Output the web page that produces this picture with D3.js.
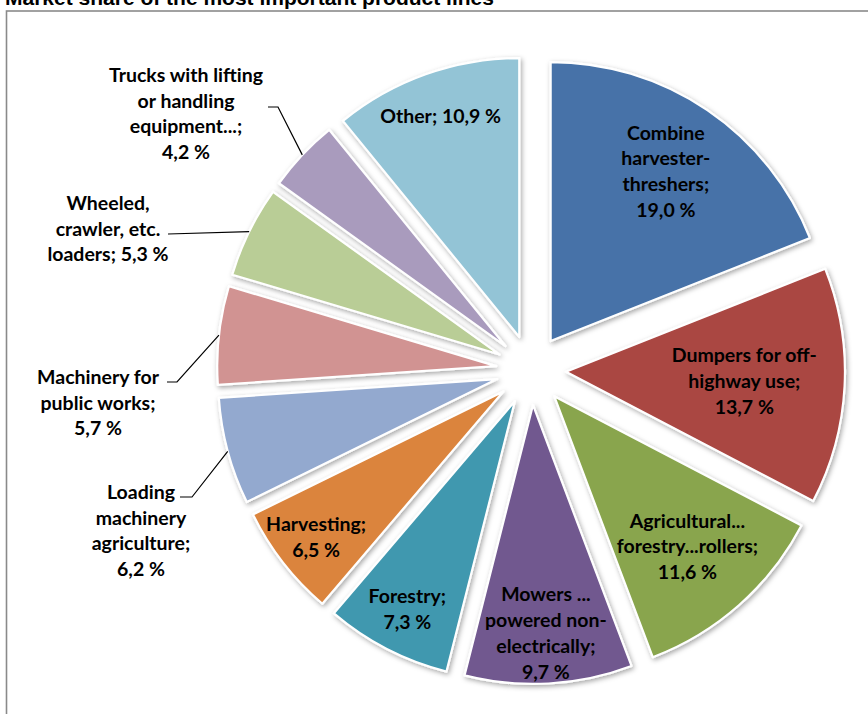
<!DOCTYPE html>
<html>
<head>
<meta charset="utf-8">
<script src="https://cdn.jsdelivr.net/npm/d3@7"></script>
<style>
  html, body { margin: 0; padding: 0; background: #fff; }
  svg { display: block; }
</style>
</head>
<body>
<div id="chart"></div>
<script>
// Product lines, clockwise from 12 o'clock
const categories = [
  "Combine harvester-threshers",
  "Dumpers for off-highway use",
  "Agricultural... forestry...rollers",
  "Mowers ... powered non-electrically",
  "Forestry",
  "Harvesting",
  "Loading machinery agriculture",
  "Machinery for public works",
  "Wheeled, crawler, etc. loaders",
  "Trucks with lifting or handling equipment...",
  "Other"
];
// Market share, %
const shares = [19.0, 13.7, 11.6, 9.7, 7.3, 6.5, 6.2, 5.7, 5.3, 4.2, 10.9];
// Label text broken into lines; {v} is replaced by the formatted share
const labelLines = [
  ["Combine", "harvester-", "threshers;", "{v}"],
  ["Dumpers for off-", "highway use;", "{v}"],
  ["Agricultural...", "forestry...rollers;", "{v}"],
  ["Mowers ...", "powered non-", "electrically;", "{v}"],
  ["Forestry;", "{v}"],
  ["Harvesting;", "{v}"],
  ["Loading", "machinery", "agriculture;", "{v}"],
  ["Machinery for", "public works;", "{v}"],
  ["Wheeled,", "crawler, etc.", "loaders; {v}"],
  ["Trucks with lifting", "or handling", "equipment...;", "{v}"],
  ["Other; {v}"]
];
const colors = ["#4672A8", "#AA4643", "#89A54E", "#71588F", "#4198AF", "#DB843D",
                "#93A9CF", "#D19392", "#B9CD96", "#A99BBD", "#93C4D6"];
const title = "Market share of the most important product lines";

// Label placement: inside labels sit along the slice bisector at a fraction of the
// radius; outside labels have a text block position and a leader elbow.
const insideLabelRadius = {0: 0.735, 1: 0.64, 2: 0.72, 3: 0.82, 4: 0.84, 5: 0.85, 10: 0.84};
const outsideLabels = {
  6: {x: 141, y: 492, elbow: [[192, 497], [180, 497]]},
  7: {x: 98,  y: 377, elbow: [[177, 382], [167, 382]]},
  8: {x: 108, y: 203, elbow: [[168, 234]]},
  9: {x: 186, y: 75,  elbow: [[278, 107], [268, 107]]}
};

const W = 868, H = 714;
const cx = 531, cy = 370, R = 279, explode = 35;
const fontSize = 19.5, lineH = 25.8;
const fmt = v => d3.format(".1f")(v).replace(".", ",") + " %";

const svg = d3.select("#chart").append("svg")
  .attr("width", W).attr("height", H)
  .style("font-family", "Lato, 'Liberation Sans', sans-serif");

const defs = svg.append("defs");
const shadow = defs.append("filter").attr("id", "shadow")
  .attr("x", "-20%").attr("y", "-20%").attr("width", "140%").attr("height", "140%");
shadow.append("feDropShadow")
  .attr("dx", 1.5).attr("dy", 2).attr("stdDeviation", 2.5)
  .attr("flood-color", "#000").attr("flood-opacity", 0.35);

// Title and frame
svg.append("text")
  .attr("x", 5).attr("y", 5)
  .style("font-family", "'Liberation Sans', Arial, sans-serif")
  .style("font-weight", "bold").style("font-size", "21px")
  .text(title);
svg.append("rect")
  .attr("x", 6.5).attr("y", 11).attr("width", W + 20).attr("height", H + 20)
  .attr("fill", "none").attr("stroke", "#8a8a8a").attr("stroke-width", 1.6);

const pie = d3.pie().sort(null).value(d => d);
const arcs = pie(shares);
const arc = d3.arc().innerRadius(0).outerRadius(R);

const mid = a => (a.startAngle + a.endAngle) / 2;
const offset = a => [explode * Math.sin(mid(a)), -explode * Math.cos(mid(a))];

const slices = svg.append("g").attr("transform", `translate(${cx},${cy})`);
slices.selectAll("path").data(arcs).join("path")
  .attr("transform", d => `translate(${offset(d)})`)
  .attr("d", arc)
  .attr("fill", (d, i) => colors[i])
  .attr("stroke", "#fff").attr("stroke-width", 2.2).attr("stroke-linejoin", "round")
  .attr("filter", "url(#shadow)");

const labels = svg.append("g").attr("transform", `translate(${cx},${cy})`)
  .style("font-weight", "bold").style("font-size", fontSize + "px")
  .attr("fill", "#000");

arcs.forEach((a, i) => {
  const lines = labelLines[i].map(s => s.replace("{v}", fmt(shares[i])));
  const [ox, oy] = offset(a);
  const m = mid(a);
  if (insideLabelRadius[i] !== undefined) {
    const r = insideLabelRadius[i] * R;
    const lx = ox + r * Math.sin(m), ly = oy - r * Math.cos(m);
    const y0 = ly - (lines.length - 1) * lineH / 2;
    const t = labels.append("text").attr("text-anchor", "middle");
    lines.forEach((s, k) => t.append("tspan").attr("x", lx).attr("y", y0 + k * lineH)
      .attr("dy", "0.35em").text(s));
  } else {
    const o = outsideLabels[i];
    const t = labels.append("text").attr("text-anchor", "middle");
    lines.forEach((s, k) => t.append("tspan").attr("x", o.x - cx).attr("y", o.y - cy + k * lineH)
      .attr("dy", "0.35em").text(s));
    const edge = [ox + R * Math.sin(m), oy - R * Math.cos(m)];
    const pts = [edge].concat(o.elbow.map(p => [p[0] - cx, p[1] - cy]));
    labels.append("path")
      .attr("d", d3.line()(pts))
      .attr("fill", "none").attr("stroke", "#000").attr("stroke-width", 1.2);
  }
});
</script>
</body>
</html>
